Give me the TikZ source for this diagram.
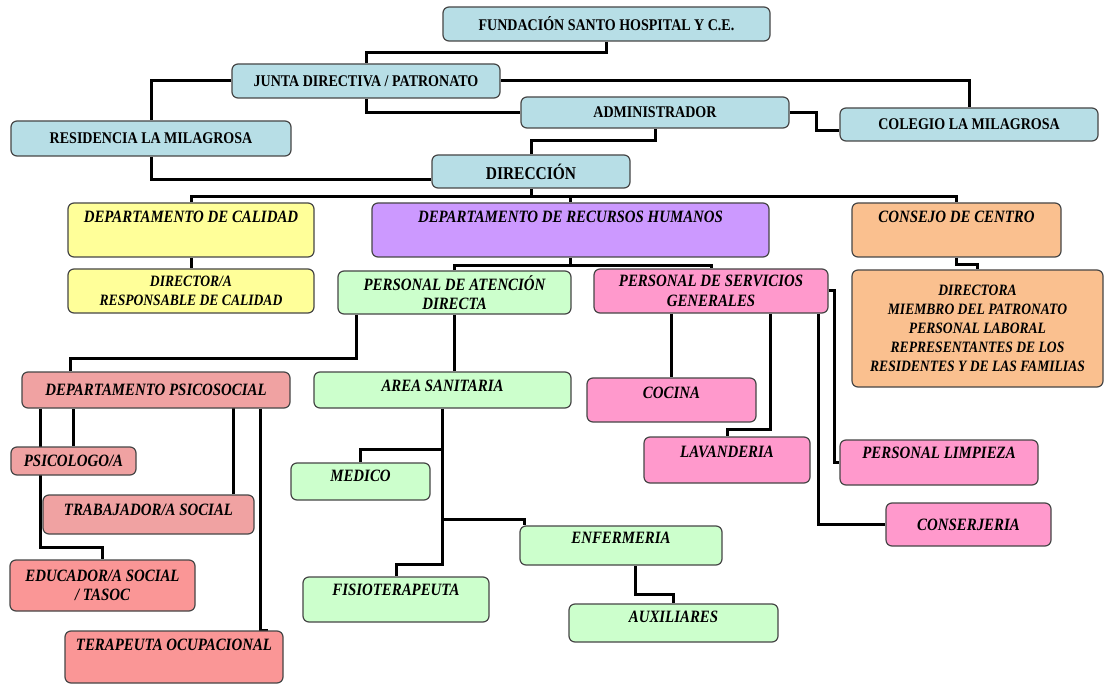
\documentclass[tikz,border=0pt]{standalone}
\usepackage{fontspec}
\setmainfont{Liberation Serif}[FakeStretch=0.86]
\usepackage{tikz}
\usetikzlibrary{backgrounds}

\definecolor{azul}{RGB}{183,222,230}
\definecolor{amarillo}{RGB}{255,255,153}
\definecolor{morado}{RGB}{204,153,255}
\definecolor{naranja}{RGB}{250,192,143}
\definecolor{verde}{RGB}{204,255,204}
\definecolor{rosa}{RGB}{255,153,204}
\definecolor{salmon}{RGB}{240,162,162}
\definecolor{rojo}{RGB}{250,150,150}
\definecolor{borde}{RGB}{70,70,70}

\tikzset{
	caja/.style={draw=borde, line width=1.2pt, rounded corners=6pt, align=center, inner sep=2pt, font=\bfseries\fontsize{16.3}{18}\selectfont},
	cursiva/.style={font=\bfseries\itshape\fontsize{17.3}{19.5}\selectfont},
	pequena/.style={font=\bfseries\itshape\fontsize{15.8}{19}\selectfont},
	arriba/.style={text depth=#1},
	enlace/.style={draw=black, line width=3pt}
}

\begin{document}
\begin{tikzpicture}[x=1pt,y=-1pt]
			\useasboundingbox (0,0) rectangle (1107,684);
			\begin{scope}[every node/.style=caja]
		    \node[fill=azul, minimum width=327, minimum height=34] (fundacion) at (606.5,24) {FUNDACIÓN SANTO HOSPITAL Y C.E.};
		    \node[fill=azul, minimum width=268, minimum height=34] (junta) at (366,81) {JUNTA DIRECTIVA / PATRONATO};
		    \node[fill=azul, minimum width=268, minimum height=31] (admin) at (655,112.5) {ADMINISTRADOR};
		    \node[fill=azul, minimum width=280, minimum height=35] (residencia) at (151,138.5) {RESIDENCIA LA MILAGROSA};
		    \node[fill=azul, minimum width=258, minimum height=33] (colegio) at (969,124.5) {COLEGIO LA MILAGROSA};
		    \node[fill=azul, minimum width=198, minimum height=33, font=\bfseries\fontsize{18}{20}\selectfont] (direccion) at (531,171.5) {DIRECCIÓN};
		    \node[fill=amarillo, cursiva, arriba=26pt, minimum width=246, minimum height=54] (calidad) at (191,230) {DEPARTAMENTO DE CALIDAD};
		    \node[fill=morado, cursiva, arriba=26pt, minimum width=397, minimum height=54] (rrhh) at (570.5,230) {DEPARTAMENTO DE RECURSOS HUMANOS};
		    \node[fill=naranja, cursiva, arriba=26pt, minimum width=209, minimum height=54] (consejo) at (956.5,230) {CONSEJO DE CENTRO};
		    \node[fill=amarillo, pequena, minimum width=246, minimum height=44] (respcalidad) at (191,291) {DIRECTOR/A\\RESPONSABLE DE CALIDAD};
		    \node[fill=verde, cursiva, minimum width=233, minimum height=43] (atencion) at (454.5,292.5) {PERSONAL DE ATENCIÓN\\DIRECTA};
		    \node[fill=rosa, cursiva, minimum width=234, minimum height=44] (servicios) at (711,291) {PERSONAL DE SERVICIOS\\GENERALES};
		    \node[fill=naranja, pequena, minimum width=251, minimum height=117] (miembros) at (977.5,328.5) {DIRECTORA\\MIEMBRO DEL PATRONATO\\PERSONAL LABORAL\\REPRESENTANTES DE LOS\\RESIDENTES Y DE LAS FAMILIAS};
		    \node[fill=salmon, cursiva, minimum width=268, minimum height=36] (psicosocial) at (156,390) {DEPARTAMENTO PSICOSOCIAL};
		    \node[fill=verde, cursiva, arriba=8pt, minimum width=257, minimum height=36] (area) at (442.5,390) {AREA SANITARIA};
		    \node[fill=rosa, cursiva, arriba=14pt, minimum width=169, minimum height=44] (cocina) at (671.5,400) {COCINA};
		    \node[fill=rosa, cursiva, arriba=16pt, minimum width=166, minimum height=46] (lavanderia) at (727,460) {LAVANDERIA};
		    \node[fill=rosa, cursiva, arriba=19pt, minimum width=198, minimum height=45] (limpieza) at (939,462.5) {PERSONAL LIMPIEZA};
		    \node[fill=rosa, cursiva, minimum width=165, minimum height=43] (conserjeria) at (968.5,524.5) {CONSERJERIA};
		    \node[fill=salmon, cursiva, minimum width=125, minimum height=28] (psicologo) at (73.5,461) {PSICOLOGO/A};
		    \node[fill=salmon, cursiva, arriba=9pt, minimum width=211, minimum height=39] (trabajador) at (148.5,514.5) {TRABAJADOR/A SOCIAL};
		    \node[fill=rojo, cursiva, minimum width=185, minimum height=51] (educador) at (102.5,585.5) {EDUCADOR/A SOCIAL\\/ TASOC};
		    \node[fill=rojo, cursiva, arriba=24pt, minimum width=218, minimum height=52] (terapeuta) at (174,657) {TERAPEUTA OCUPACIONAL};
		    \node[fill=verde, cursiva, arriba=11pt, minimum width=139, minimum height=37] (medico) at (360.5,481.5) {MEDICO};
		    \node[fill=verde, cursiva, arriba=19pt, minimum width=186, minimum height=45] (fisio) at (396,599.5) {FISIOTERAPEUTA};
		    \node[fill=verde, cursiva, arriba=15pt, minimum width=202, minimum height=39] (enfermeria) at (621,545.5) {ENFERMERIA};
		    \node[fill=verde, cursiva, arriba=12pt, minimum width=209, minimum height=38] (auxiliares) at (673.5,623) {AUXILIARES};
			\end{scope}
			\begin{scope}[on background layer, every path/.style=enlace]
		    \fill[white] (0,0) rectangle (1107,684);
		    \draw (fundacion.south) -- ++(0,11) -| (junta.north);
		    \draw (junta.west) -| (residencia.north);
		    \draw (junta.east) -| (colegio.north);
		    \draw (junta.south) |- (admin.west);
		    \draw (admin.east) -- ++(27,0) |- ([yshift=-6pt]colegio.west);
		    \draw (admin.south) -- ++(0,12) -| (direccion.north);
		    \draw (residencia.south) |- ([yshift=-8pt]direccion.west);
		    \draw (direccion.south) -- ++(0,8) coordinate (bus);
		    \draw (calidad.north) |- (bus) -| (consejo.north);
		    \draw (bus -| rrhh.north) -- (rrhh.north);
		    \draw (calidad.south) -- (respcalidad.north);
		    \draw (consejo.south) -- ++(0,7) -| (miembros.north);
		    \draw (rrhh.south) -- ++(0,8) coordinate (ramal);
		    \draw (atencion.north) |- (ramal) -| (servicios.north);
		    \draw ([xshift=19pt]atencion.south west) -- ++(0,44) -| ([xshift=49pt]psicosocial.north west);
		    \draw (atencion.south) -- (atencion.south |- area.north);
		    \draw (area.south) -- ++(0,156) -| (fisio.north);
		    \draw (area.south) ++(0,41) -| (medico.north);
		    \draw (area.south) ++(0,111) -| ([xshift=5pt]enfermeria.north west);
		    \draw ([xshift=14pt]enfermeria.south) -- ++(0,29) -| (auxiliares.north);
		    \draw (servicios.south -| cocina.north) -- (cocina.north);
		    \draw ([xshift=-58pt]servicios.south east) -- ++(0,116) -| (lavanderia.north);
		    \draw ([xshift=-10pt]servicios.south east) |- (conserjeria.west);
		    \draw (servicios.east) -- ++(6,0) |- (limpieza.west);
		    \draw (psicologo.north) -- (psicologo.north |- psicosocial.south);
		    \draw ([xshift=19pt]psicosocial.south west) -- ++(0,139) -| (educador.north);
		    \draw ([xshift=-21pt]trabajador.north east) -- ++(0,-87);
		    \draw ([xshift=-30pt]psicosocial.south east) |- ([xshift=-16pt]terapeuta.north east);
	    \end{scope}
\end{tikzpicture}
\end{document}
